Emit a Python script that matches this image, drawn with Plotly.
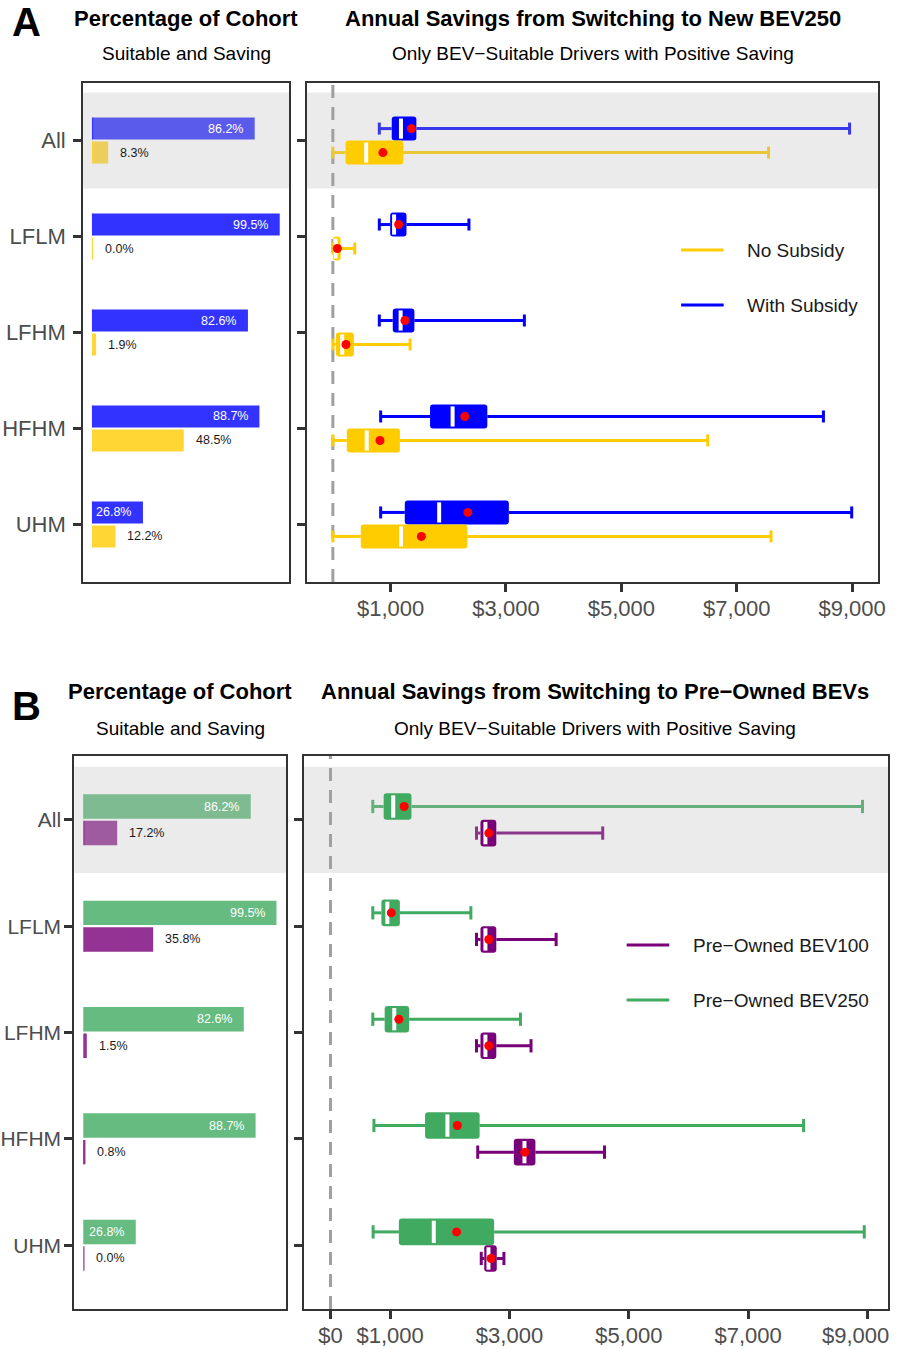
import plotly.graph_objects as go

# ---------------------------------------------------------------- data
categories = ["All", "LFLM", "LFHM", "HFHM", "UHM"]

# Panel A: share of cohort that is BEV-suitable and saving (%)
share_with_subsidy = [86.2, 99.5, 82.6, 88.7, 26.8]
share_no_subsidy = [8.3, 0.0, 1.9, 48.5, 12.2]

# Panel A: annual savings, new BEV250 ($)
with_sub_low = [805, 805, 805, 828, 828]
with_sub_q1 = [1020, 993, 1038, 1684, 1246]
with_sub_med = [1180, 1061, 1174, 2075, 1842]
with_sub_q3 = [1447, 1276, 1413, 2677, 3050]
with_sub_high = [8955, 2358, 3319, 8502, 8992]
with_sub_mean = [1362, 1140, 1249, 2285, 2338]

no_sub_low = [0, 0, 0, 0, 0]
no_sub_q1 = [219, 0, 51, 241, 483]
no_sub_med = [577, 48, 162, 587, 1181]
no_sub_q3 = [1220, 133, 365, 1162, 2331]
no_sub_high = [7551, 379, 1338, 6497, 7594]
no_sub_mean = [867, 77, 227, 816, 1534]

# Panel B: share of cohort that is BEV-suitable and saving (%)
share_bev250 = [86.2, 99.5, 82.6, 88.7, 26.8]
share_bev100 = [17.2, 35.8, 1.5, 0.8, 0.0]

# Panel B: annual savings, pre-owned BEVs ($)
bev250_low = [709, 709, 709, 728, 714]
bev250_q1 = [891, 853, 908, 1585, 1146]
bev250_med = [1052, 953, 1069, 1960, 1731]
bev250_q3 = [1357, 1163, 1318, 2500, 2743]
bev250_high = [8917, 2353, 3184, 7930, 8947]
bev250_mean = [1235, 1019, 1146, 2126, 2113]

bev100_low = [2447, 2447, 2447, 2468, 2527]
bev100_q1 = [2514, 2514, 2514, 3073, 2577]
bev100_med = [2597, 2597, 2597, 3251, 2648]
bev100_q3 = [2779, 2779, 2779, 3435, 2787]
bev100_high = [4563, 3782, 3361, 4593, 2907]
bev100_mean = [2653, 2653, 2653, 3257, 2691]

legend_a = ["No Subsidy", "With Subsidy"]
legend_b = ["Pre\u2212Owned BEV100", "Pre\u2212Owned BEV250"]

tick_a = [1000, 3000, 5000, 7000, 9000]
tick_b = [0, 1000, 3000, 5000, 7000, 9000]

# ---------------------------------------------------------------- style
W, H = 897, 1349
FONT = "Liberation Sans, Arial, Helvetica, sans-serif"
AXIS_TXT = "#4D4D4D"
FRAME = "#333333"

BLUE = (0, 0, 255)
YELLOW = (255, 204, 0)
GREEN = (64, 170, 96)
PURPLE = (120, 0, 120)


def rgb(c):
    return "rgb(%d,%d,%d)" % tuple(int(round(v)) for v in c)


def tint(c, a=0.8):
    # colour at partial opacity on white
    return tuple(v * a + 255 * (1 - a) for v in c)


def shade(c):
    # colour seen through the translucent highlight band of the "All" row
    a, g = 0.294, 187
    return tuple(v * (1 - a) + g * a for v in c)


def px_x(p):
    return p / W


def px_y(p):
    return 1 - p / H


ypos = [i + 1 for i in range(len(categories))]
OFF = 0.125          # dodge offset of the two series within a row
BAR_W = 0.23
BOX_W = 0.25
CAP = 0.0625
MED = 0.105

fig = go.Figure()
annotations = []
shapes = []


def add_share_bars(xa, ya, top_vals, bot_vals, top_col, bot_col):
    for vals, col, sign, inside in ((top_vals, top_col, -1, True),
                                    (bot_vals, bot_col, 1, False)):
        ys = [y + sign * OFF for y in ypos]
        cols = [rgb(shade(tint(col))) if i == 0 else rgb(tint(col))
                for i in range(len(vals))]
        fig.add_trace(go.Bar(x=vals, y=ys, orientation="h", width=BAR_W,
                             marker=dict(color=cols, line=dict(width=0)),
                             xaxis=xa, yaxis=ya, showlegend=False,
                             hoverinfo="skip"))
        # baseline edge so that empty shares still show a hairline
        ex, ey = [], []
        for y in ys:
            ex += [0, 0, None]
            ey += [y - BAR_W / 2, y + BAR_W / 2, None]
        fig.add_trace(go.Scatter(x=ex, y=ey, mode="lines",
                                 line=dict(color=cols[-1], width=1.2),
                                 xaxis=xa, yaxis=ya, showlegend=False,
                                 hoverinfo="skip"))
        for v, y in zip(vals, ys):
            annotations.append(dict(
                x=v, y=y, xref=xa, yref=ya, text="%.1f%%" % v,
                showarrow=False,
                xanchor="right" if inside else "left",
                xshift=-9.5 if inside else 10, yanchor="middle",
                font=dict(family=FONT, size=12.5,
                          color="white" if inside else "#1A1A1A")))


def add_boxes(xa, ya, low, q1, med, q3, high, mean, col, sign):
    ys = [y + sign * OFF for y in ypos]
    # whiskers and caps, drawn outside the box
    for rows, c in (([0], rgb(shade(col))),
                    (list(range(1, len(ys))), rgb(col))):
        sx, sy = [], []
        for i in rows:
            y = ys[i]
            sx += [low[i], q1[i], None, q3[i], high[i], None,
                   low[i], low[i], None, high[i], high[i], None]
            sy += [y, y, None, y, y, None,
                   y - CAP, y + CAP, None, y - CAP, y + CAP, None]
        fig.add_trace(go.Scatter(x=sx, y=sy, mode="lines",
                                 line=dict(color=c, width=3),
                                 xaxis=xa, yaxis=ya, showlegend=False,
                                 hoverinfo="skip"))
    # interquartile boxes
    fig.add_trace(go.Bar(x=[b - a for a, b in zip(q1, q3)], base=q1, y=ys,
                         orientation="h", width=BOX_W,
                         marker=dict(color=rgb(col), cornerradius=3,
                                     line=dict(width=0)),
                         xaxis=xa, yaxis=ya, showlegend=False,
                         hoverinfo="skip"))
    # medians
    mx, my = [], []
    for m, y in zip(med, ys):
        mx += [m, m, None]
        my += [y - MED, y + MED, None]
    fig.add_trace(go.Scatter(x=mx, y=my, mode="lines",
                             line=dict(color="white", width=4),
                             xaxis=xa, yaxis=ya, showlegend=False,
                             hoverinfo="skip"))
    # means
    fig.add_trace(go.Scatter(x=mean, y=ys, mode="markers",
                             marker=dict(color="#FF0000", size=9,
                                         line=dict(width=0)),
                             xaxis=xa, yaxis=ya, showlegend=False,
                             hoverinfo="skip"))


# Panel A
add_share_bars("x", "y", share_with_subsidy, share_no_subsidy, BLUE, YELLOW)
add_boxes("x2", "y2", with_sub_low, with_sub_q1, with_sub_med, with_sub_q3,
          with_sub_high, with_sub_mean, BLUE, -1)
add_boxes("x2", "y2", no_sub_low, no_sub_q1, no_sub_med, no_sub_q3,
          no_sub_high, no_sub_mean, YELLOW, 1)

# Panel B
add_share_bars("x3", "y3", share_bev250, share_bev100, GREEN, PURPLE)
add_boxes("x4", "y4", bev250_low, bev250_q1, bev250_med, bev250_q3,
          bev250_high, bev250_mean, GREEN, -1)
add_boxes("x4", "y4", bev100_low, bev100_q1, bev100_med, bev100_q3,
          bev100_high, bev100_mean, PURPLE, 1)

# highlight band behind the "All" row and the zero reference line
for xa, ya in (("x", "y"), ("x2", "y2"), ("x3", "y3"), ("x4", "y4")):
    shapes.append(dict(type="rect", xref=xa + " domain", yref=ya,
                       x0=0, x1=1, y0=ypos[0] - 0.5, y1=ypos[0] + 0.5,
                       fillcolor="#EBEBEB", line=dict(width=0),
                       layer="below"))
for xa, ya in (("x2", "y2"), ("x4", "y4")):
    shapes.append(dict(type="line", xref=xa, yref=ya + " domain",
                       x0=0, x1=0, y0=0, y1=1,
                       line=dict(color="#A0A0A0", width=3, dash="13px,9px"),
                       layer="below"))

# ---------------------------------------------------------------- axes
frame = dict(showline=True, linecolor=FRAME, linewidth=2, mirror=True,
             showgrid=False, zeroline=False)
yrange = [len(categories) + 0.6, 0.4]
ticks = dict(ticks="outside", ticklen=8, tickwidth=2.5, tickcolor=FRAME)
TICK_SIZE = 22
tickfont = dict(family=FONT, size=TICK_SIZE, color=AXIS_TXT)
tickfont_b = dict(family=FONT, size=21, color=AXIS_TXT)


def money(v):
    return "$" + format(v, ",")


# the last panel-B label sits against the page edge and is placed below
tick_b_text = [money(v) for v in tick_b[:-1]] + [""]

layout_axes = dict(
    xaxis=dict(domain=[px_x(82), px_x(290)], range=[-4.975, 104.475],
               showticklabels=False, ticks="", anchor="y", **frame),
    yaxis=dict(domain=[px_y(582), px_y(83)], range=yrange, anchor="x",
               tickvals=ypos, ticktext=categories, tickfont=tickfont,
               ticklabelstandoff=3, **ticks, **frame),
    xaxis2=dict(domain=[px_x(308), px_x(885)], range=[-450, 9450],
                anchor="y2", tickvals=tick_a,
                ticktext=[money(v) for v in tick_a], tickfont=tickfont,
                ticklabelstandoff=-2, **ticks, **frame),
    yaxis2=dict(domain=[px_y(582), px_y(83)], range=yrange, anchor="x2",
                tickvals=ypos, showticklabels=False, **ticks, **frame),
    xaxis3=dict(domain=[px_x(73), px_x(287)], range=[-4.975, 104.475],
                showticklabels=False, ticks="", anchor="y3", **frame),
    yaxis3=dict(domain=[px_y(1309), px_y(756)], range=yrange, anchor="x3",
                tickvals=ypos, ticktext=categories, tickfont=tickfont_b,
                ticklabelstandoff=-1, **ticks, **frame),
    xaxis4=dict(domain=[px_x(305), px_x(895)], range=[-445, 9345],
                anchor="y4", tickvals=tick_b, ticktext=tick_b_text,
                tickfont=tickfont, ticklabelstandoff=-2, **ticks, **frame),
    yaxis4=dict(domain=[px_y(1309), px_y(756)], range=yrange, anchor="x4",
                tickvals=ypos, showticklabels=False, **ticks, **frame),
)

# last panel-B tick label, kept inside the page
annotations.append(dict(
    x=1, xref="paper", y=px_y(1335), yref="paper",
    text=money(tick_b[-1]), showarrow=False, xanchor="right",
    yanchor="middle", borderpad=0,
    font=dict(family=FONT, size=TICK_SIZE, color=AXIS_TXT)))

# ---------------------------------------------------------------- text


def label(text, x, y, size, bold=False, anchor="center", color="black"):
    annotations.append(dict(
        text="<b>%s</b>" % text if bold else text,
        x=px_x(x), y=px_y(y), xref="paper", yref="paper",
        xanchor=anchor, yanchor="middle", showarrow=False,
        font=dict(family=FONT, size=size, color=color)))


label("A", 25, 22, 40, bold=True)
label("Percentage of Cohort", 186, 18, 22, bold=True)
label("Suitable and Saving", 186, 54, 19)
label("Annual Savings from Switching to New BEV250", 597, 18, 22, bold=True)
label("Only BEV\u2212Suitable Drivers with Positive Saving", 597, 54, 19)

label("B", 25, 706, 40, bold=True)
label("Percentage of Cohort", 180, 691, 22, bold=True)
label("Suitable and Saving", 180, 728, 19)
label("Annual Savings from Switching to Pre\u2212Owned BEVs", 599, 691, 22,
      bold=True)
label("Only BEV\u2212Suitable Drivers with Positive Saving", 599, 728, 19)

# legends
for names, cols, x0, x1, xt, ys in (
        (legend_a, [YELLOW, BLUE], 686, 729, 751, [250, 305]),
        (legend_b, [PURPLE, GREEN], 631, 674, 696, [945, 1000])):
    for name, col, y in zip(names, cols, ys):
        shapes.append(dict(type="line", xref="paper", yref="paper",
                           x0=px_x(x0), x1=px_x(x1), y0=px_y(y), y1=px_y(y),
                           line=dict(color=rgb(col), width=3.2)))
        label(name, xt, y, 19, anchor="left", color="#1A1A1A")

fig.update_layout(
    width=W, height=H, margin=dict(l=0, r=0, t=0, b=0),
    paper_bgcolor="white", plot_bgcolor="white",
    barmode="overlay", showlegend=False,
    font=dict(family=FONT),
    annotations=annotations, shapes=shapes,
    **layout_axes)

fig.write_html("out.html")
